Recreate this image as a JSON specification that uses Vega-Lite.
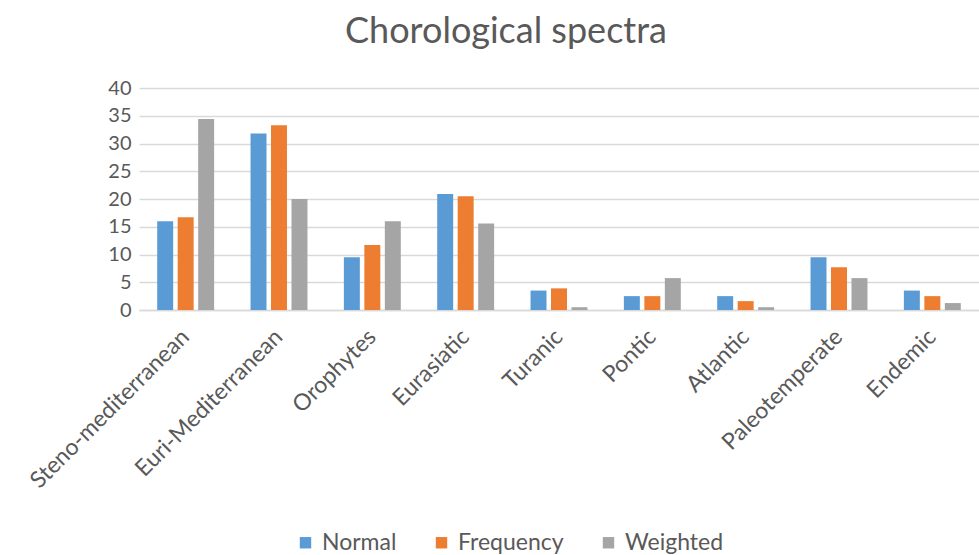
{
  "$schema": "https://vega.github.io/schema/vega-lite/v6.json",
  "width": 840,
  "height": 222,
  "autosize": {"type": "none"},
  "padding": {"left": 139, "top": 88, "right": 0, "bottom": 245},
  "background": "white",
  "title": {
    "text": "Chorological spectra",
    "font": "Lato",
    "fontSize": 36,
    "fontWeight": "normal",
    "color": "#595959",
    "anchor": "middle",
    "dx": -53,
    "offset": 27
  },
  "data": {
    "values": [
      {"region": "Steno-mediterranean", "series": "Normal", "value": 16.0},
      {"region": "Steno-mediterranean", "series": "Frequency", "value": 16.7},
      {"region": "Steno-mediterranean", "series": "Weighted", "value": 34.4},
      {"region": "Euri-Mediterranean", "series": "Normal", "value": 31.8},
      {"region": "Euri-Mediterranean", "series": "Frequency", "value": 33.3},
      {"region": "Euri-Mediterranean", "series": "Weighted", "value": 20.0},
      {"region": "Orophytes", "series": "Normal", "value": 9.5},
      {"region": "Orophytes", "series": "Frequency", "value": 11.7},
      {"region": "Orophytes", "series": "Weighted", "value": 16.0},
      {"region": "Eurasiatic", "series": "Normal", "value": 20.9},
      {"region": "Eurasiatic", "series": "Frequency", "value": 20.5},
      {"region": "Eurasiatic", "series": "Weighted", "value": 15.6},
      {"region": "Turanic", "series": "Normal", "value": 3.5},
      {"region": "Turanic", "series": "Frequency", "value": 3.9},
      {"region": "Turanic", "series": "Weighted", "value": 0.5},
      {"region": "Pontic", "series": "Normal", "value": 2.5},
      {"region": "Pontic", "series": "Frequency", "value": 2.5},
      {"region": "Pontic", "series": "Weighted", "value": 5.75},
      {"region": "Atlantic", "series": "Normal", "value": 2.5},
      {"region": "Atlantic", "series": "Frequency", "value": 1.6},
      {"region": "Atlantic", "series": "Weighted", "value": 0.5},
      {"region": "Paleotemperate", "series": "Normal", "value": 9.5},
      {"region": "Paleotemperate", "series": "Frequency", "value": 7.7},
      {"region": "Paleotemperate", "series": "Weighted", "value": 5.75},
      {"region": "Endemic", "series": "Normal", "value": 3.5},
      {"region": "Endemic", "series": "Frequency", "value": 2.5},
      {"region": "Endemic", "series": "Weighted", "value": 1.25}
    ]
  },
  "mark": {"type": "bar"},
  "encoding": {
    "x": {
      "field": "region",
      "type": "nominal",
      "sort": null,
      "scale": {"paddingInner": 0.39, "paddingOuter": 0.195},
      "axis": {
        "title": null,
        "labelAngle": -45,
        "labelAlign": "right",
        "labelBaseline": "middle",
        "labelPadding": 23,
        "labelLimit": 0,
        "labelFont": "Lato",
        "labelFontSize": 23,
        "labelColor": "#595959",
        "ticks": false,
        "domainColor": "#D9D9D9",
        "domainWidth": 1.5
      }
    },
    "xOffset": {
      "field": "series",
      "type": "nominal",
      "sort": ["Normal", "Frequency", "Weighted"],
      "scale": {"paddingInner": 0.22, "paddingOuter": 0}
    },
    "y": {
      "field": "value",
      "type": "quantitative",
      "scale": {"domain": [0, 40]},
      "axis": {
        "title": null,
        "values": [0, 5, 10, 15, 20, 25, 30, 35, 40],
        "labelFont": "Lato",
        "labelFontSize": 20,
        "labelColor": "#595959",
        "labelPadding": 8,
        "ticks": false,
        "domain": false,
        "gridColor": "#D9D9D9",
        "gridWidth": 1.5
      }
    },
    "color": {
      "field": "series",
      "type": "nominal",
      "sort": ["Normal", "Frequency", "Weighted"],
      "scale": {"domain": ["Normal", "Frequency", "Weighted"], "range": ["#5B9BD5", "#ED7D31", "#A5A5A5"]},
      "legend": {
        "title": null,
        "orient": "none",
        "direction": "horizontal",
        "legendX": 155,
        "legendY": 443,
        "symbolType": "square",
        "symbolSize": 130,
        "symbolStrokeWidth": 0,
        "labelFont": "Lato",
        "labelFontSize": 23,
        "labelColor": "#595959",
        "columnPadding": 33,
        "labelOffset": 5
      }
    }
  },
  "config": {"view": {"stroke": null}}
}
